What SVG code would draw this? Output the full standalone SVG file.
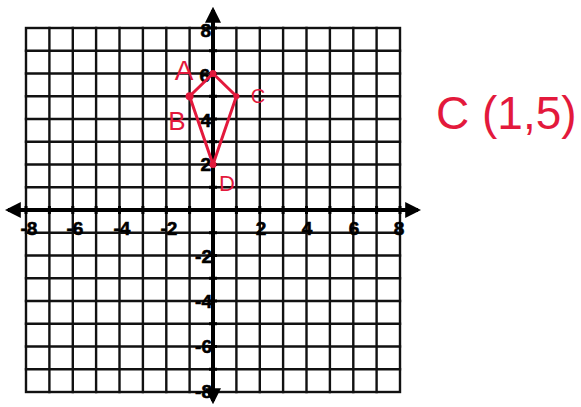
<svg xmlns="http://www.w3.org/2000/svg" width="581" height="407" viewBox="0 0 581 407">
<defs>
<style>
.g{stroke:#111;stroke-width:2.4;fill:none;stroke-linecap:square}
.ax{stroke:#000;stroke-width:4;fill:none}
.tk{stroke:#000;stroke-width:3}
.n{font-family:"Liberation Sans",Arial,sans-serif;font-weight:bold;font-size:19px;fill:#000;stroke:#000;stroke-width:0.6}
.r{fill:#e3193c}
.rl{stroke:#e3193c;stroke-width:3;fill:none;stroke-linejoin:round}
.rt{font-family:"Liberation Sans",Arial,sans-serif;fill:#e3193c}
</style>
<marker id="ah" viewBox="0 0 10 10" refX="8" refY="5" markerWidth="4" markerHeight="4" orient="auto-start-reverse" markerUnits="strokeWidth">
<path d="M0,0 L10,5 L0,10 Z" fill="#000"/>
</marker>
</defs>
<rect width="581" height="407" fill="#fff"/>
<g id="grid" class="g">
<rect x="26" y="28" width="374" height="364"/>
<path d="M49.4,28V392M72.8,28V392M96.1,28V392M119.5,28V392M142.9,28V392M166.3,28V392M189.6,28V392M236.4,28V392M259.8,28V392M283.1,28V392M306.5,28V392M329.9,28V392M353.3,28V392M376.6,28V392"/>
<path d="M26,50.75H400M26,73.5H400M26,96.25H400M26,119H400M26,141.75H400M26,164.5H400M26,187.25H400M26,232.75H400M26,255.5H400M26,278.25H400M26,301H400M26,323.75H400M26,346.5H400M26,369.25H400"/>
</g>
<g id="axes">
<line class="ax" x1="8" y1="210" x2="418" y2="210" marker-start="url(#ah)" marker-end="url(#ah)"/>
<line class="ax" x1="213" y1="10" x2="213" y2="401" marker-start="url(#ah)" marker-end="url(#ah)"/>
<path class="tk" d="M26,206V214M49.4,206V214M72.8,206V214M96.1,206V214M119.5,206V214M142.9,206V214M166.3,206V214M189.6,206V214M236.4,206V214M259.8,206V214M283.1,206V214M306.5,206V214M329.9,206V214M353.3,206V214M376.6,206V214M400,206V214"/>
<path class="tk" d="M209,28H217M209,50.75H217M209,73.5H217M209,96.25H217M209,119H217M209,141.75H217M209,164.5H217M209,187.25H217M209,232.75H217M209,255.5H217M209,278.25H217M209,301H217M209,323.75H217M209,346.5H217M209,369.25H217M209,392H217"/>
</g>
<g id="axis-labels" class="n">
<text x="29" y="235" text-anchor="middle">-8</text>
<text x="75" y="235" text-anchor="middle">-6</text>
<text x="122" y="235" text-anchor="middle">-4</text>
<text x="169" y="235" text-anchor="middle">-2</text>
<text x="261" y="235" text-anchor="middle">2</text>
<text x="307" y="235" text-anchor="middle">4</text>
<text x="354" y="235" text-anchor="middle">6</text>
<text x="399" y="235" text-anchor="middle">8</text>
<text x="211" y="37" text-anchor="end">8</text>
<text x="210" y="82" text-anchor="end">6</text>
<text x="211" y="127" text-anchor="end">4</text>
<text x="211" y="171" text-anchor="end">2</text>
<text x="212" y="263" text-anchor="end">-2</text>
<text x="212" y="308" text-anchor="end">-4</text>
<text x="212" y="353" text-anchor="end">-6</text>
<text x="212" y="398" text-anchor="end">-8</text>
</g>
<g id="connectors">
<path class="rl" d="M213,73.5L236.4,96.25L213,164.5L189.6,96.25Z"/>
</g>
<g id="A"><circle class="r" cx="213" cy="73.5" r="3.5"/><text class="rt" x="184" y="80" font-size="28" text-anchor="middle">A</text></g>
<g id="B"><circle class="r" cx="189.6" cy="96.25" r="4"/><text class="rt" x="177" y="130" font-size="26" text-anchor="middle">B</text></g>
<g id="C"><circle class="r" cx="236.4" cy="96.25" r="3"/><text class="rt" x="258" y="103" font-size="20" text-anchor="middle">C</text></g>
<g id="D"><circle class="r" cx="213" cy="164.5" r="3.5"/><text class="rt" x="227" y="191" font-size="22" text-anchor="middle">D</text></g>
<text class="rt" x="436" y="129" font-size="46">C (1,5)</text>
</svg>
